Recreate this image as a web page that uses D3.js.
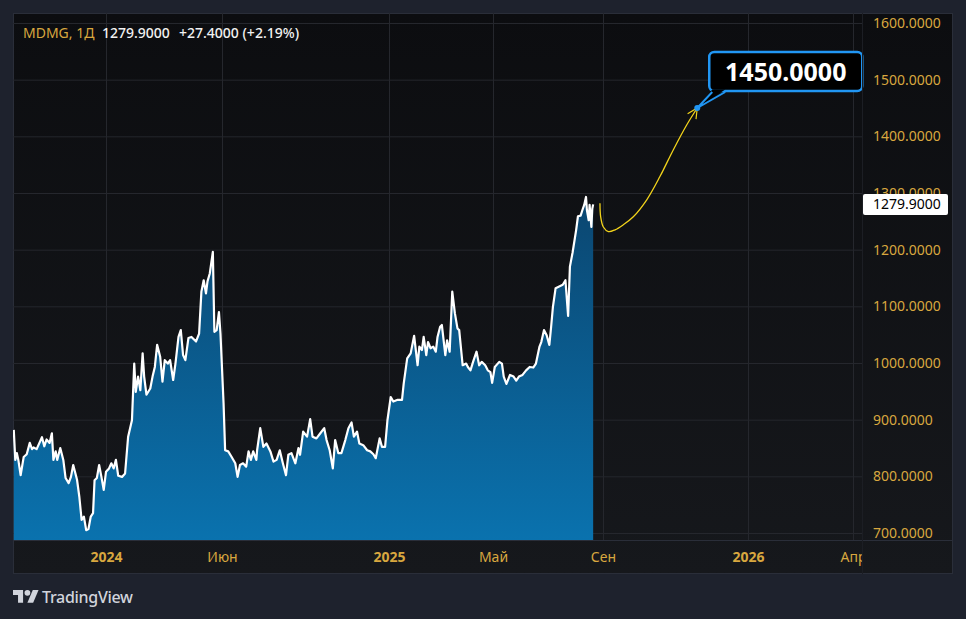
<!DOCTYPE html>
<html>
<head>
<meta charset="utf-8">
<script src="https://cdn.jsdelivr.net/npm/d3@7"></script>
<style>
html, body { margin: 0; padding: 0; background: #1e222d; }
svg { display: block; font-family: "Noto Sans", "DejaVu Sans", sans-serif; }
</style>
</head>
<body>
<script>
// MDMG daily close. days = days since 2024-01-01
var priceDays = [-121,-119,-117,-115,-112,-108,-104,-100,-97,-95,-91,-84,-81,-78,-74,-71,-69,-66,-64,-60,-56,-53,-49,-46,-43,-38,-35,-32,-29,-26,-23,-20,-17,-15,-12,-9,-6,-3,
	0,4,7,10,13,16,21,25,29,34,37,39,42,45,48,50,53,58,61,64,67,71,74,77,81,84,88,91,95,98,101,104,108,112,118,122,125,128,131,133,136,140,142,145,148,150,
	154,156,160,164,169,172,175,179,183,186,189,192,196,197,201,205,209,214,218,222,226,230,234,237,241,246,250,252,256,261,265,268,273,278,283,286,290,294,297,
	301,305,310,314,318,321,325,328,333,338,342,346,349,354,357,361,364,
	368,371,376,381,383,387,391,395,399,401,404,406,409,411,414,417,420,422,425,427,431,433,436,439,442,445,447,451,455,457,460,463,467,470,473,477,480,483,485,
	488,493,496,498,501,505,509,512,515,519,523,527,531,534,538,540,543,546,549,551,553,556,560,564,567,570,572,575,579,581,584,586,588,590,591,593,594,596,597,598];
var priceClose = [882,829,841,829,802,834,839,859,848,851,848,869,853,865,859,876,829,844,829,850,829,797,788,799,820,794,764,723,729,705,707,729,735,793,797,820,799,776,
	808,814,823,814,829,801,799,805,870,899,999,949,976,952,1017,976,944,955,976,993,1032,1011,967,1005,999,1005,970,999,1046,1058,1014,1005,1044,1046,1038,1052,1126,1146,1123,1144,1158,1196,1055,1058,1090,1052,
	929,846,844,835,823,799,820,823,817,844,829,844,829,846,885,852,858,844,826,829,846,823,802,838,841,823,850,838,879,870,901,870,867,876,885,864,846,814,864,
	841,841,864,885,895,870,879,858,855,846,844,839,832,867,852,852,899,
	940,932,935,935,964,1008,1017,1048,996,1029,1023,1046,1014,1037,1026,1029,1020,1046,1064,1067,1014,1040,1020,1126,1088,1061,1058,996,999,993,987,1002,1020,996,1002,996,987,984,965,
	993,1002,999,976,963,979,976,969,976,979,987,993,992,999,1029,1037,1058,1049,1032,1064,1099,1132,1135,1138,1146,1083,1170,1195,1235,1259,1260,1270,1279,1293,1270,1252,1279,1240,1272,1279.9];

// forecast drawing (yellow arrow) and its target
var forecastDays = [605.6,606.4,609.3,613.5,619.1,626.1,634.5,645.8,656.9,668.1,679.4,688.3];
var forecastVals = [1282,1258,1240,1232,1235,1244,1258,1288,1329,1376,1420,1450];
var targetValue = 1450;

var lastClose = 1279.9;
var change = 27.4;
var changePct = 2.19;
var symbol = "MDMG, 1Д";

var timeTicks = ["2024-01-01","2024-06-01","2025-01-01","2025-05-01","2025-09-01","2026-01-01","2026-04-01"];
var timeLabels = ["2024","Июн","2025","Май","Сен","2026","Апр"];
var timeBold = [true,false,true,false,false,true,false];
var priceTicks = [700,800,900,1000,1100,1200,1300,1400,1500,1600];

// layout
var W = 966, H = 619;
var pL = 13, pR = 862, pT = 13, pB = 540;
var frameRight = 953, frameBottom = 574;
var gold = "#d8a73f";
var blue = "#2196f3";
var yellow = "#f2d31b";

var base = Date.UTC(2024, 0, 1);
function toDate(d) { return new Date(base + d * 864e5); }
var parse = d3.utcParse("%Y-%m-%d");
var tickDates = timeTicks.map(parse);

var x = d3.scaleUtc()
	.domain([toDate(-122)].concat(tickDates, [toDate(828)]))
	.range([13, 106, 222, 389, 493, 603, 748, 853, 862]);
var y = d3.scaleLinear()
	.domain([700, 1600])
	.range([533, 23]);

var data = priceDays.map(function(d, i) { return {date: toDate(d), v: priceClose[i]}; });
var fdata = forecastDays.map(function(d, i) { return {date: toDate(d), v: forecastVals[i]}; });

var svg = d3.select("body").append("svg")
	.attr("width", W)
	.attr("height", H);

var defs = svg.append("defs");
var bg = defs.append("linearGradient").attr("id", "bgGrad")
	.attr("x1", 0).attr("y1", 0).attr("x2", 0).attr("y2", 1);
bg.append("stop").attr("offset", 0).attr("stop-color", "#0c0d10");
bg.append("stop").attr("offset", 1).attr("stop-color", "#16181c");

var areaGrad = defs.append("linearGradient").attr("id", "areaGrad")
	.attr("gradientUnits", "userSpaceOnUse")
	.attr("x1", 0).attr("y1", y(1293)).attr("x2", 0).attr("y2", pB);
areaGrad.append("stop").attr("offset", 0).attr("stop-color", "#0b4670");
areaGrad.append("stop").attr("offset", 1).attr("stop-color", "#0a72ae");

defs.append("clipPath").attr("id", "plotClip")
	.append("rect").attr("x", pL).attr("y", pT).attr("width", pR - pL).attr("height", pB - pT);
defs.append("clipPath").attr("id", "priceClip")
	.append("rect").attr("x", pR).attr("y", pT).attr("width", frameRight - pR).attr("height", pB - pT);
defs.append("clipPath").attr("id", "timeClip")
	.append("rect").attr("x", pL).attr("y", pB).attr("width", pR - pL).attr("height", frameBottom - pB);

defs.append("marker").attr("id", "arrow")
	.attr("markerUnits", "userSpaceOnUse")
	.attr("viewBox", "-12 -7 14 14")
	.attr("markerWidth", 14).attr("markerHeight", 14)
	.attr("refX", 0).attr("refY", 0)
	.attr("orient", "auto")
	.append("path")
	.attr("d", "M-10,-5L0,0L-10,5")
	.attr("fill", "none")
	.attr("stroke", yellow)
	.attr("stroke-width", 1.2);

// chart frame
svg.append("rect")
	.attr("x", pL + 0.5).attr("y", pT + 0.5)
	.attr("width", frameRight - pL - 1).attr("height", frameBottom - pT - 1)
	.attr("fill", "url(#bgGrad)")
	.attr("stroke", "#2a2e39");

// grid
var gridX = svg.append("g")
	.attr("transform", "translate(0," + pB + ")")
	.call(d3.axisBottom(x).tickValues(tickDates).tickSize(-(pB - pT)).tickFormat(""));
gridX.select(".domain").remove();
gridX.selectAll("line").attr("stroke", "#25272d");

var gridY = svg.append("g")
	.attr("transform", "translate(" + pL + ",0)")
	.call(d3.axisRight(y).tickValues(priceTicks).tickSize(pR - pL).tickFormat(""));
gridY.select(".domain").remove();
gridY.selectAll("line").attr("stroke", "#25272d");

// price area + line
var plot = svg.append("g").attr("clip-path", "url(#plotClip)");
plot.append("path")
	.datum(data)
	.attr("fill", "url(#areaGrad)")
	.attr("d", d3.area().x(function(d) { return x(d.date); }).y0(pB).y1(function(d) { return y(d.v); }));
plot.append("path")
	.datum(data)
	.attr("fill", "none")
	.attr("stroke", "#ffffff")
	.attr("stroke-width", 2.2)
	.attr("stroke-linejoin", "round")
	.attr("d", d3.line().x(function(d) { return x(d.date); }).y(function(d) { return y(d.v); }));

// forecast curve
plot.append("path")
	.datum(fdata)
	.attr("fill", "none")
	.attr("stroke", yellow)
	.attr("stroke-width", 1.3)
	.attr("marker-end", "url(#arrow)")
	.attr("d", d3.line().curve(d3.curveCatmullRom.alpha(0.5)).x(function(d) { return x(d.date); }).y(function(d) { return y(d.v); }));

// callout for the target
var tx = x(toDate(forecastDays[forecastDays.length - 1]));
var ty = y(targetValue);
var bx = tx + 12, bw = 153, bh = 39, by = ty - 17 - bh;
svg.append("rect")
	.attr("x", bx).attr("y", by).attr("width", bw).attr("height", bh)
	.attr("rx", 5)
	.attr("fill", "#000")
	.attr("stroke", blue)
	.attr("stroke-width", 2.5);
svg.append("path")
	.attr("d", "M" + (bx + 3) + "," + (by + bh - 1.5) + "L" + tx + "," + ty + "L" + (bx + 16) + "," + (by + bh - 1.5) + "Z")
	.attr("fill", "#000");
svg.append("path")
	.attr("d", "M" + (bx + 3) + "," + (by + bh + 1) + "L" + tx + "," + ty + "L" + (bx + 16) + "," + (by + bh + 1))
	.attr("fill", "none")
	.attr("stroke", blue)
	.attr("stroke-width", 2);
svg.append("text")
	.attr("x", bx + bw / 2).attr("y", by + bh / 2)
	.attr("dy", "0.36em")
	.attr("text-anchor", "middle")
	.attr("fill", "#ffffff")
	.attr("font-size", "25px")
	.attr("font-weight", "bold")
	.text(d3.format(".4f")(targetValue));
svg.append("circle")
	.attr("cx", tx).attr("cy", ty).attr("r", 3)
	.attr("fill", blue);

// separators
svg.append("line")
	.attr("x1", pL).attr("x2", frameRight)
	.attr("y1", pB + 0.5).attr("y2", pB + 0.5)
	.attr("stroke", "#2a2e39");
svg.append("line")
	.attr("x1", pR + 0.5).attr("x2", pR + 0.5)
	.attr("y1", pT).attr("y2", frameBottom)
	.attr("stroke", "#1c1e24");

// price axis
var yAxis = svg.append("g")
	.attr("clip-path", "url(#priceClip)")
	.append("g")
	.attr("transform", "translate(" + pR + ",0)")
	.call(d3.axisRight(y).tickValues(priceTicks).tickSize(0).tickPadding(11).tickFormat(d3.format(".4f")));
yAxis.attr("font-family", null).attr("font-size", null);
yAxis.select(".domain").remove();
yAxis.selectAll("text").attr("fill", gold).style("font-size", "14px");

// time axis
var xAxis = svg.append("g")
	.attr("clip-path", "url(#timeClip)")
	.append("g")
	.attr("transform", "translate(0," + pB + ")")
	.call(d3.axisBottom(x).tickValues(tickDates).tickSize(0).tickPadding(12)
		.tickFormat(function(d, i) { return timeLabels[i]; }));
xAxis.attr("font-family", null).attr("font-size", null);
xAxis.select(".domain").remove();
xAxis.selectAll("text")
	.attr("fill", gold)
	.style("font-size", "14px")
	.style("font-weight", function(d, i) { return timeBold[i] ? "bold" : "normal"; });

// last price label
var ly = y(lastClose);
svg.append("rect")
	.attr("x", pR + 1).attr("y", ly - 10.5)
	.attr("width", 85).attr("height", 21)
	.attr("rx", 2)
	.attr("fill", "#ffffff");
svg.append("text")
	.attr("x", pR + 11).attr("y", ly)
	.attr("dy", "0.36em")
	.attr("fill", "#000")
	.style("font-size", "14px")
	.text(d3.format(".4f")(lastClose));

// legend
var legend = svg.append("g").style("font-size", "14px");
legend.append("text").attr("x", 23).attr("y", 38).attr("fill", gold).text(symbol);
legend.append("text").attr("x", 102).attr("y", 38).attr("fill", "#f2f2f2").style("font-weight", 500).text(d3.format(".4f")(lastClose));
legend.append("text").attr("x", 179).attr("y", 38).attr("fill", "#f2f2f2").style("font-weight", 500)
	.text("+" + d3.format(".4f")(change) + " (+" + d3.format(".2f")(changePct) + "%)");

// TradingView mark
var logo = svg.append("g").attr("transform", "translate(13,587) scale(0.72)").attr("fill", "#d1d4dc");
logo.append("path").attr("d", "M14 22H7V11H0V4h14v18z");
logo.append("path").attr("d", "M28 22h-8l7.5-18h8L28 22z");
logo.append("circle").attr("cx", 20).attr("cy", 8).attr("r", 4);
svg.append("text")
	.attr("x", 42).attr("y", 603)
	.attr("fill", "#d1d4dc")
	.style("font-size", "16px")
	.style("font-weight", 500)
	.style("letter-spacing", "-0.3px")
	.text("TradingView");
</script>
</body>
</html>
